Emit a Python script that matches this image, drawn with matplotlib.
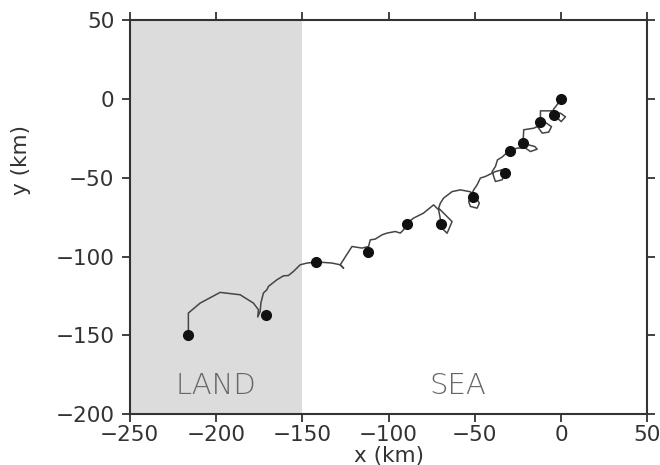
import numpy as np
import matplotlib
matplotlib.use('Agg')
import matplotlib.pyplot as plt

# trajectory (km), traced from start (0, 0) to the landfall end
track_x = [0.0, -2.0, -4.5, -4.3, -0.4, 2.5, 0.0, -2.7, -5.2, -12.0, -12.0, -9.1, -5.6, -7.2,
           -11.0, -13.0, -13.9, -15.9, -21.7, -22.0, -18.8, -15.3, -13.9, -17.8, -20.7, -25.5,
           -31.3, -34.2, -36.9, -38.1, -40.0, -38.1, -34.2, -32.3, -34.2, -38.1, -43.9, -46.8,
           -48.7, -50.7, -53.6, -52.6, -48.7, -47.4, -49.7, -52.6, -58.4, -63.2, -68.1, -70.0,
           -71.0, -63.2, -66.1, -69.0, -71.0, -73.9, -79.7, -85.5, -89.3, -91.3, -93.2, -96.1,
           -100.9, -103.8, -107.7, -110.6, -111.6, -115.4, -121.2, -128.0, -126.1, -128.0,
           -132.8, -137.7, -142.1, -147.3, -151.2, -155.1, -158.0, -160.9, -164.7, -169.6,
           -170.5, -172.5, -174.0, -174.4, -175.8, -175.4, -178.3, -186.0, -197.6, -209.2,
           -216.0, -216.0]
track_y = [0.0, -3.2, -6.7, -8.7, -9.1, -11.4, -14.4, -11.6, -7.6, -7.6, -12.9, -15.0, -17.6, -21.1,
           -21.7, -18.6, -17.6, -18.6, -19.6, -26.0, -29.2, -30.2, -31.9, -33.4, -31.2, -31.2,
           -34.0, -36.9, -38.7, -42.9, -46.1, -52.4, -51.3, -47.1, -45.0, -46.1, -49.2, -50.2,
           -54.5, -57.7, -65.1, -68.2, -69.3, -66.1, -62.1, -58.9, -57.7, -58.8, -62.9, -66.1,
           -69.3, -77.8, -85.2, -82.0, -70.4, -67.2, -72.4, -75.6, -78.8, -83.0, -85.1, -84.1,
           -85.1, -86.2, -88.9, -89.4, -93.6, -94.6, -93.6, -105.2, -107.3, -105.2,
           -104.1, -103.7, -103.5, -104.1, -105.2, -109.4, -112.0, -112.2, -114.7, -118.9,
           -121.0, -123.1, -129.5, -134.8, -138.3, -133.7, -129.5, -124.2, -122.7, -129.5,
           -135.8, -149.6]

# daily positions
dot_x = [0.0, -3.9, -12.0, -22.2, -29.4, -32.7, -51.2, -69.4, -89.3, -111.9, -142.1, -171.1, -216.0]
dot_y = [0.0, -10.1, -14.6, -28.1, -33.1, -47.2, -62.0, -79.4, -79.1, -96.8, -103.6, -136.9, -149.6]

coast_x = -150

fig = plt.figure(figsize=(6.6, 4.65), dpi=100)
ax = fig.add_axes([0.1965, 0.109, 0.7845, 0.848])

ax.axvspan(-250, coast_x, color='#dcdcdc', lw=0, zorder=0)
ax.plot(track_x, track_y, color='#454545', lw=1.1, zorder=2)
ax.plot(dot_x, dot_y, 'o', color='#111111', ms=7, zorder=3)

ax.text(-200, -182, 'LAND', fontsize=21, color='#666666', fontweight='light',
        ha='center', va='center')
ax.text(-60, -182, 'SEA', fontsize=21, color='#666666', fontweight='light',
        ha='center', va='center')

ax.set_xlim(-250, 50)
ax.set_ylim(-200, 50)
ax.set_xticks(np.arange(-250, 51, 50))
ax.set_yticks(np.arange(-200, 51, 50))
ax.tick_params(direction='out', length=6, width=1.3, color='#333333', labelsize=15.5,
               labelcolor='#333333', top=True, right=True)
ax.tick_params(axis='x', pad=2)
ax.tick_params(axis='y', pad=5)
for s in ax.spines.values():
    s.set_linewidth(1.5)
    s.set_color('#333333')

ax.set_xlabel('x (km)', fontsize=15.5, color='#333333')
ax.set_ylabel('y (km)', fontsize=15.5, color='#333333')
ax.xaxis.set_label_coords(0.5, -0.08)
ax.yaxis.set_label_coords(-0.19, 0.645)

fig.savefig('out.png', dpi=100)
